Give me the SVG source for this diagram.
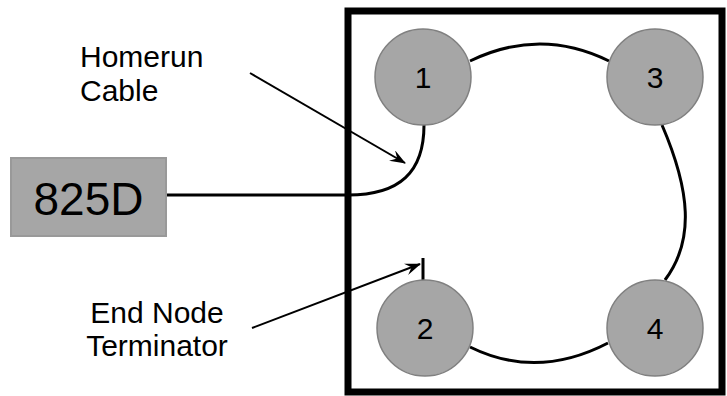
<svg xmlns="http://www.w3.org/2000/svg" width="727" height="396" viewBox="0 0 727 396">
<style>
.node circle{fill:#a6a6a6;stroke:#808080;stroke-width:1.5}
.lbl{font-family:"Liberation Sans",Arial,sans-serif;fill:#000}
.cable{fill:none;stroke:#000;stroke-width:3}
.ptr{fill:none;stroke:#000;stroke-width:2}
</style>
<defs>
<marker id="ah" viewBox="0 0 16 12" refX="15" refY="6" markerWidth="16" markerHeight="12" markerUnits="userSpaceOnUse" orient="auto">
<path d="M0,0 L16,6 L0,12 L6,6 Z" fill="#000"/>
</marker>
</defs>
<rect id="enclosure" x="348" y="11" width="374" height="381" fill="none" stroke="#000" stroke-width="7"/>
<g id="connectors">
<path class="cable" d="M166,195 L348,195 C400,195 424,172 424,125"/>
<path class="cable" d="M470,61 Q540,27 609,61"/>
<path class="cable" d="M662,125 C690,190 695,240 665,280"/>
<path class="cable" d="M470,347 Q537,380 608,343"/>
<path class="cable" d="M423,258 L423,280"/>
<path class="ptr" d="M250,73 L405,163" marker-end="url(#ah)"/>
<path class="ptr" d="M252,328 L420,264" marker-end="url(#ah)"/>
</g>
<g id="box825D">
<rect x="11" y="158" width="155" height="78" fill="#a6a6a6" stroke="#999" stroke-width="2"/>
<text class="lbl" x="88.5" y="215" font-size="46" text-anchor="middle">825D</text>
</g>
<g id="node1" class="node"><circle cx="423" cy="77" r="48"/><text class="lbl" x="423" y="88" font-size="30" text-anchor="middle">1</text></g>
<g id="node3" class="node"><circle cx="655" cy="77" r="48"/><text class="lbl" x="655" y="88" font-size="30" text-anchor="middle">3</text></g>
<g id="node2" class="node"><circle cx="425" cy="328" r="48"/><text class="lbl" x="425" y="339" font-size="30" text-anchor="middle">2</text></g>
<g id="node4" class="node"><circle cx="655" cy="328" r="48"/><text class="lbl" x="655" y="339" font-size="30" text-anchor="middle">4</text></g>
<g id="label-homerun">
<text class="lbl" x="80" y="67" font-size="30">Homerun</text>
<text class="lbl" x="80" y="101" font-size="30">Cable</text>
</g>
<g id="label-terminator">
<text class="lbl" x="157" y="323" font-size="30" text-anchor="middle">End Node</text>
<text class="lbl" x="157" y="356" font-size="30" text-anchor="middle">Terminator</text>
</g>
</svg>
